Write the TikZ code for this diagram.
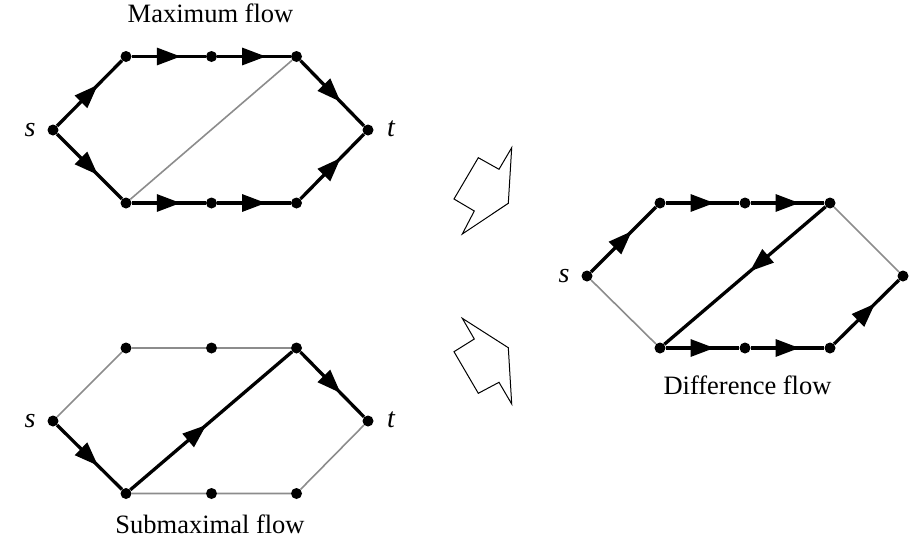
\documentclass[tikz,border=0pt]{standalone}
\usepackage{fontspec}
\setmainfont{Liberation Serif}
\usetikzlibrary{arrows.meta,decorations.markings}
\tikzset{
  dot/.style={circle,fill=black,inner sep=0pt,minimum size=11pt},
  flow/.style={line width=3.3pt,postaction={decorate},
    decoration={markings,mark=at position 0.5 with {\arrow[xshift=12pt]{Triangle[length=24pt,width=17pt]}}}},
  flowlong/.style={line width=3.3pt,postaction={decorate},
    decoration={markings,mark=at position 0.47 with {\arrow{Triangle[length=24pt,width=17pt]}}}},
  plain/.style={line width=1.6pt,draw=black!45},
  bigarrow/.style={line width=1pt,line join=miter},
  captext/.style={font=\fontsize{26.5}{30}\selectfont,anchor=base},
  vlabel/.style={font=\fontsize{28}{30}\selectfont\itshape}
}
\begin{document}
\begin{tikzpicture}[x=1pt,y=-1pt]
\useasboundingbox (0,0) rectangle (919,549);
% ---- top graph (maximum flow)
\node[dot] (as) at (53,130) {};
\node[dot] (a1) at (126,56.5) {};
\node[dot] (a2) at (211.5,56.5) {};
\node[dot] (a3) at (296.5,56.5) {};
\node[dot] (at) at (368,130) {};
\node[dot] (b1) at (126,203) {};
\node[dot] (b2) at (211.5,203) {};
\node[dot] (b3) at (296.5,203) {};
\node[vlabel] (asl) at (30,130) {s};
\node[vlabel] (atl) at (391,128.5) {t};
\draw[plain] (b1) -- (a3);
\draw[flow] (as) -- (a1);
\draw[flow] (a1) -- (a2);
\draw[flow] (a2) -- (a3);
\draw[flow] (a3) -- (at);
\draw[flow] (as) -- (b1);
\draw[flow] (b1) -- (b2);
\draw[flow] (b2) -- (b3);
\draw[flow] (b3) -- (at);
\node[captext] (capmax) at (210.5,22.7) {Maximum flow};
% ---- bottom graph (submaximal flow)
\node[dot] (cs) at (53,421) {};
\node[dot] (c1) at (126,348) {};
\node[dot] (c2) at (211.5,348) {};
\node[dot] (c3) at (296.5,348) {};
\node[dot] (ct) at (368,421) {};
\node[dot] (d1) at (126,493.5) {};
\node[dot] (d2) at (211.5,493.5) {};
\node[dot] (d3) at (296.5,493.5) {};
\node[vlabel] (csl) at (30,421) {s};
\node[vlabel] (ctl) at (391,419.5) {t};
\draw[plain] (cs) -- (c1) -- (c2) -- (c3);
\draw[plain] (d1) -- (d2) -- (d3) -- (ct);
\draw[flow] (cs) -- (d1);
\draw[flowlong] (d1) -- (c3);
\draw[flow] (c3) -- (ct);
\node[captext] (capsub) at (210,533) {Submaximal flow};
% ---- right graph (difference flow)
\node[dot] (es) at (587,276) {};
\node[dot] (e1) at (660,203) {};
\node[dot] (e2) at (745,203) {};
\node[dot] (e3) at (830,203) {};
\node[dot] (et) at (903,276) {};
\node[dot] (f1) at (660,348) {};
\node[dot] (f2) at (745,348) {};
\node[dot] (f3) at (830,348) {};
\node[vlabel] (esl) at (564,276) {s};
\draw[plain] (es) -- (f1);
\draw[plain] (e3) -- (et);
\draw[flow] (es) -- (e1);
\draw[flow] (e1) -- (e2);
\draw[flow] (e2) -- (e3);
\draw[flowlong] (e3) -- (f1);
\draw[flow] (f1) -- (f2);
\draw[flow] (f2) -- (f3);
\draw[flow] (f3) -- (et);
\node[captext] (capdiff) at (747.5,394) {Difference flow};
% ---- block arrows
\draw[bigarrow] (511.7,147.7) -- (499,169.3) -- (478.3,157.7) -- (454,199)
  -- (474.3,211) -- (462.3,234) -- (508.3,203.3) -- cycle;
\draw[bigarrow] (462.3,318.3) -- (474.3,339) -- (454,351.7) -- (478.3,393.3)
  -- (499,382.3) -- (511.7,404) -- (508.3,347.7) -- cycle;
\end{tikzpicture}
\end{document}
